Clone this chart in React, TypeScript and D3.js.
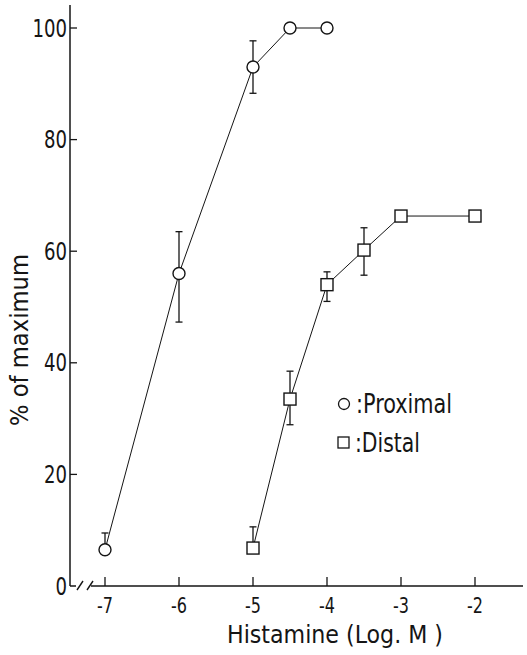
import * as d3 from "d3";

// log molar concentrations of histamine
const proximalDose = [-7, -6, -5, -4.5, -4];
const proximalValue = [6.5, 56, 93, 100, 100];
const proximalErrUp = [3, 7.5, 4.7, 0, 0];
const proximalErrDown = [0, 8.7, 4.7, 0, 0];

const distalDose = [-5, -4.5, -4, -3.5, -3, -2];
const distalValue = [6.8, 33.5, 54, 60.2, 66.3, 66.3];
const distalErrUp = [3.8, 5, 2.3, 4, 0, 0];
const distalErrDown = [0, 4.6, 3, 4.5, 0, 0];

const xTicks = [-7, -6, -5, -4, -3, -2];
const yTicks = [0, 20, 40, 60, 80, 100];

const FONT = "'DejaVu Sans Condensed', 'DejaVu Sans', sans-serif";
const INK = "#151515";

function ErrorBar({ x, y0, y1 }: { x: number; y0: number; y1: number }) {
  return (
    <g stroke={INK} strokeWidth={1.3}>
      <line x1={x} x2={x} y1={y0} y2={y1} />
      <line x1={x - 3.5} x2={x + 3.5} y1={y1} y2={y1} />
    </g>
  );
}

export default function App() {
  const width = 527;
  const height = 655;

  // scales: axis line at y=586, y-axis at x=70
  const x = d3.scaleLinear().domain([-7, -2]).range([105, 475]);
  const y = d3.scaleLinear().domain([0, 100]).range([586, 28]);
  const axisX = 70;
  const axisY = y(0);

  const line = d3
    .line<[number, number]>()
    .x((d) => x(d[0]))
    .y((d) => y(d[1]));

  const proximal = proximalDose.map((d, i) => [d, proximalValue[i]] as [number, number]);
  const distal = distalDose.map((d, i) => [d, distalValue[i]] as [number, number]);

  return (
    <svg
      width={width}
      height={height}
      style={{ position: "absolute", left: 0, top: 0, background: "#fff" }}
      fontFamily={FONT}
    >
      {/* y axis */}
      <line x1={axisX} x2={axisX} y1={5} y2={axisY} stroke={INK} strokeWidth={1.5} />
      {yTicks.map((t) => (
        <g key={"y" + t}>
          {t > 0 && (
            <line x1={axisX} x2={axisX + 7} y1={y(t)} y2={y(t)} stroke={INK} strokeWidth={1.3} />
          )}
          <text
            x={axisX - 3}
            y={y(t)}
            dy="0.36em"
            textAnchor="end"
            fontSize={24}
            fill={INK}
            textLength={String(t).length * 11.5}
            lengthAdjust="spacingAndGlyphs"
          >
            {t}
          </text>
        </g>
      ))}

      {/* x axis with break */}
      <line x1={axisX} x2={axisX + 6} y1={axisY} y2={axisY} stroke={INK} strokeWidth={1.5} />
      <line x1={77} x2={83} y1={axisY + 4} y2={axisY - 5} stroke={INK} strokeWidth={1.4} />
      <line x1={87} x2={93} y1={axisY + 4} y2={axisY - 5} stroke={INK} strokeWidth={1.4} />
      <line x1={91} x2={523} y1={axisY} y2={axisY} stroke={INK} strokeWidth={1.5} />
      {xTicks.map((t) => (
        <g key={"x" + t}>
          <line x1={x(t)} x2={x(t)} y1={axisY} y2={axisY - 9} stroke={INK} strokeWidth={1.3} />
          <text
            x={x(t)}
            y={613}
            textAnchor="middle"
            fontSize={21}
            fill={INK}
            textLength={16}
            lengthAdjust="spacingAndGlyphs"
          >
            {"-" + Math.abs(t)}
          </text>
        </g>
      ))}

      {/* axis titles */}
      <text x={227} y={643} fontSize={25} fill={INK} textLength={216} lengthAdjust="spacingAndGlyphs">
        Histamine (Log. M )
      </text>
      <text
        transform="translate(28,340) rotate(-90)"
        textAnchor="middle"
        fontSize={24}
        fill={INK}
        textLength={172}
        lengthAdjust="spacingAndGlyphs"
      >
        % of maximum
      </text>

      {/* lines */}
      <path d={line(proximal) ?? ""} fill="none" stroke={INK} strokeWidth={1} />
      <path d={line(distal) ?? ""} fill="none" stroke={INK} strokeWidth={1} />

      {/* error bars */}
      {proximal.map((d, i) => (
        <g key={"pe" + i}>
          {proximalErrUp[i] > 0 && <ErrorBar x={x(d[0])} y0={y(d[1])} y1={y(d[1] + proximalErrUp[i])} />}
          {proximalErrDown[i] > 0 && <ErrorBar x={x(d[0])} y0={y(d[1])} y1={y(d[1] - proximalErrDown[i])} />}
        </g>
      ))}
      {distal.map((d, i) => (
        <g key={"de" + i}>
          {distalErrUp[i] > 0 && <ErrorBar x={x(d[0])} y0={y(d[1])} y1={y(d[1] + distalErrUp[i])} />}
          {distalErrDown[i] > 0 && <ErrorBar x={x(d[0])} y0={y(d[1])} y1={y(d[1] - distalErrDown[i])} />}
        </g>
      ))}

      {/* markers */}
      {proximal.map((d, i) => (
        <circle key={"pc" + i} cx={x(d[0])} cy={y(d[1])} r={6} fill="#fff" stroke={INK} strokeWidth={1.4} />
      ))}
      {distal.map((d, i) => (
        <rect
          key={"ds" + i}
          x={x(d[0]) - 6}
          y={y(d[1]) - 6}
          width={12}
          height={12}
          fill="#fff"
          stroke={INK}
          strokeWidth={1.4}
        />
      ))}

      {/* legend */}
      <circle cx={344} cy={404} r={5.5} fill="#fff" stroke={INK} strokeWidth={1.3} />
      <text x={356} y={413} fontSize={26} fill={INK} textLength={96} lengthAdjust="spacingAndGlyphs">
        :Proximal
      </text>
      <rect x={338} y={437} width={11} height={11} fill="#fff" stroke={INK} strokeWidth={1.3} />
      <text x={355} y={452} fontSize={26} fill={INK} textLength={65} lengthAdjust="spacingAndGlyphs">
        :Distal
      </text>
    </svg>
  );
}
